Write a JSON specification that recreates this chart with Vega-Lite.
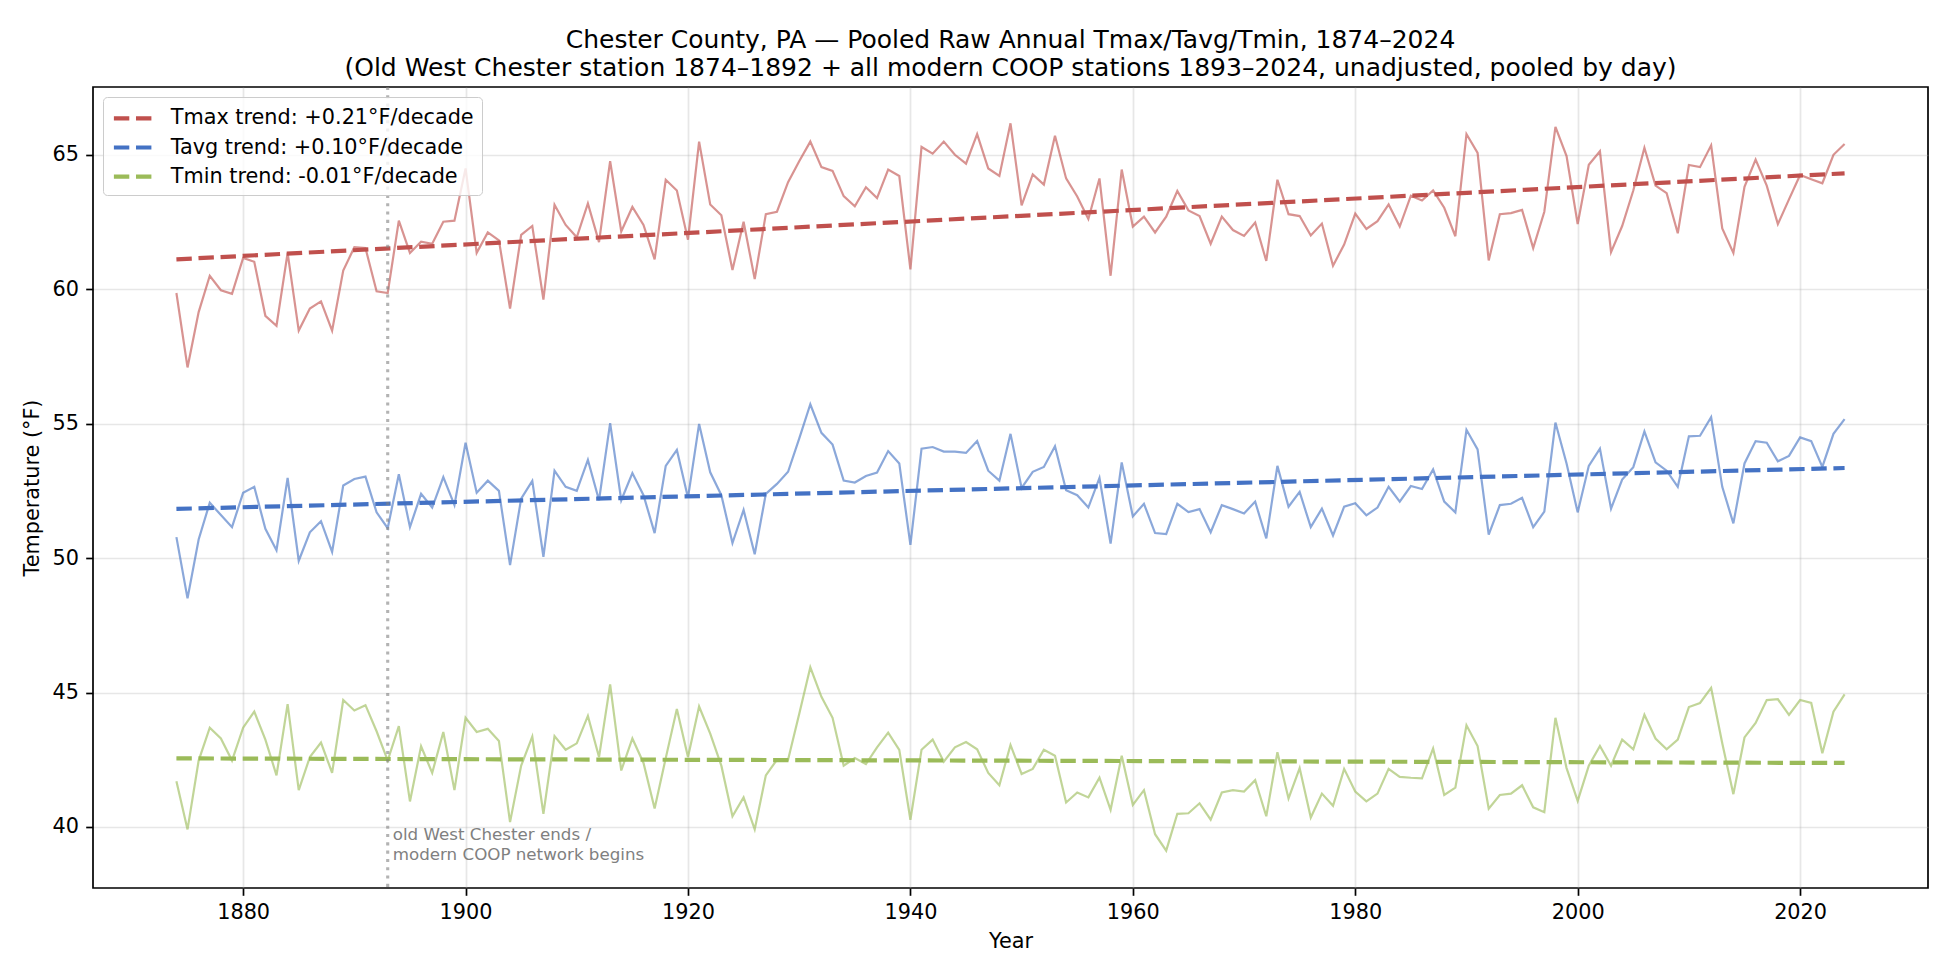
{
  "$schema": "https://vega.github.io/schema/vega-lite/v6.json",
  "description": "Chester County, PA pooled raw annual Tmax/Tavg/Tmin with linear trends, 1874-2024.",
  "width": 1835,
  "height": 801,
  "autosize": {"type": "none"},
  "padding": {"left": 93, "top": 87, "right": 22, "bottom": 87},
  "background": "white",
  "title": {
    "text": [
      "Chester County, PA — Pooled Raw Annual Tmax/Tavg/Tmin, 1874–2024",
      "(Old West Chester station 1874–1892 + all modern COOP stations 1893–2024, unadjusted, pooled by day)"
    ],
    "anchor": "middle",
    "font": "DejaVu Sans",
    "fontSize": 25,
    "fontWeight": "normal",
    "color": "black",
    "lineHeight": 28,
    "offset": 4
  },
  "datasets": {
    "annual": [
      {"year": 1874, "Tmax": 59.86, "Tavg": 50.78, "Tmin": 41.70},
      {"year": 1875, "Tmax": 57.09, "Tavg": 48.50, "Tmin": 39.91},
      {"year": 1876, "Tmax": 59.15, "Tavg": 50.69, "Tmin": 42.47},
      {"year": 1877, "Tmax": 60.50, "Tavg": 52.06, "Tmin": 43.69},
      {"year": 1878, "Tmax": 59.96, "Tavg": 51.60, "Tmin": 43.29},
      {"year": 1879, "Tmax": 59.83, "Tavg": 51.15, "Tmin": 42.47},
      {"year": 1880, "Tmax": 61.16, "Tavg": 52.43, "Tmin": 43.69},
      {"year": 1881, "Tmax": 61.02, "Tavg": 52.65, "Tmin": 44.29},
      {"year": 1882, "Tmax": 59.01, "Tavg": 51.09, "Tmin": 43.25},
      {"year": 1883, "Tmax": 58.64, "Tavg": 50.29, "Tmin": 41.92},
      {"year": 1884, "Tmax": 61.35, "Tavg": 52.98, "Tmin": 44.57},
      {"year": 1885, "Tmax": 58.46, "Tavg": 49.90, "Tmin": 41.37},
      {"year": 1886, "Tmax": 59.28, "Tavg": 50.96, "Tmin": 42.60},
      {"year": 1887, "Tmax": 59.55, "Tavg": 51.37, "Tmin": 43.14},
      {"year": 1888, "Tmax": 58.46, "Tavg": 50.23, "Tmin": 42.01},
      {"year": 1889, "Tmax": 60.69, "Tavg": 52.70, "Tmin": 44.72},
      {"year": 1890, "Tmax": 61.56, "Tavg": 52.94, "Tmin": 44.33},
      {"year": 1891, "Tmax": 61.53, "Tavg": 53.03, "Tmin": 44.53},
      {"year": 1892, "Tmax": 59.92, "Tavg": 51.70, "Tmin": 43.56},
      {"year": 1893, "Tmax": 59.86, "Tavg": 51.11, "Tmin": 42.47},
      {"year": 1894, "Tmax": 62.55, "Tavg": 53.12, "Tmin": 43.75},
      {"year": 1895, "Tmax": 61.35, "Tavg": 51.15, "Tmin": 40.95},
      {"year": 1896, "Tmax": 61.77, "Tavg": 52.39, "Tmin": 43.00},
      {"year": 1897, "Tmax": 61.69, "Tavg": 51.88, "Tmin": 42.01},
      {"year": 1898, "Tmax": 62.51, "Tavg": 53.01, "Tmin": 43.53},
      {"year": 1899, "Tmax": 62.55, "Tavg": 51.97, "Tmin": 41.37},
      {"year": 1900, "Tmax": 64.49, "Tavg": 54.29, "Tmin": 44.06},
      {"year": 1901, "Tmax": 61.35, "Tavg": 52.43, "Tmin": 43.53},
      {"year": 1902, "Tmax": 62.11, "Tavg": 52.88, "Tmin": 43.65},
      {"year": 1903, "Tmax": 61.82, "Tavg": 52.50, "Tmin": 43.20},
      {"year": 1904, "Tmax": 59.28, "Tavg": 49.74, "Tmin": 40.18},
      {"year": 1905, "Tmax": 62.02, "Tavg": 52.21, "Tmin": 42.28},
      {"year": 1906, "Tmax": 62.35, "Tavg": 52.87, "Tmin": 43.36},
      {"year": 1907, "Tmax": 59.61, "Tavg": 50.05, "Tmin": 40.49},
      {"year": 1908, "Tmax": 63.14, "Tavg": 53.25, "Tmin": 43.38},
      {"year": 1909, "Tmax": 62.39, "Tavg": 52.65, "Tmin": 42.87},
      {"year": 1910, "Tmax": 61.93, "Tavg": 52.50, "Tmin": 43.11},
      {"year": 1911, "Tmax": 63.19, "Tavg": 53.65, "Tmin": 44.13},
      {"year": 1912, "Tmax": 61.75, "Tavg": 52.15, "Tmin": 42.60},
      {"year": 1913, "Tmax": 64.76, "Tavg": 55.02, "Tmin": 45.30},
      {"year": 1914, "Tmax": 62.15, "Tavg": 52.15, "Tmin": 42.10},
      {"year": 1915, "Tmax": 63.06, "Tavg": 53.16, "Tmin": 43.29},
      {"year": 1916, "Tmax": 62.39, "Tavg": 52.34, "Tmin": 42.38},
      {"year": 1917, "Tmax": 61.11, "Tavg": 50.93, "Tmin": 40.69},
      {"year": 1918, "Tmax": 64.07, "Tavg": 53.43, "Tmin": 42.56},
      {"year": 1919, "Tmax": 63.67, "Tavg": 54.02, "Tmin": 44.39},
      {"year": 1920, "Tmax": 61.84, "Tavg": 52.24, "Tmin": 42.60},
      {"year": 1921, "Tmax": 65.49, "Tavg": 54.99, "Tmin": 44.48},
      {"year": 1922, "Tmax": 63.15, "Tavg": 53.19, "Tmin": 43.47},
      {"year": 1923, "Tmax": 62.75, "Tavg": 52.34, "Tmin": 42.28},
      {"year": 1924, "Tmax": 60.71, "Tavg": 50.56, "Tmin": 40.40},
      {"year": 1925, "Tmax": 62.51, "Tavg": 51.79, "Tmin": 41.10},
      {"year": 1926, "Tmax": 60.38, "Tavg": 50.14, "Tmin": 39.91},
      {"year": 1927, "Tmax": 62.79, "Tavg": 52.39, "Tmin": 41.92},
      {"year": 1928, "Tmax": 62.88, "Tavg": 52.76, "Tmin": 42.50},
      {"year": 1929, "Tmax": 63.98, "Tavg": 53.21, "Tmin": 42.50},
      {"year": 1930, "Tmax": 64.76, "Tavg": 54.44, "Tmin": 44.20},
      {"year": 1931, "Tmax": 65.49, "Tavg": 55.72, "Tmin": 45.94},
      {"year": 1932, "Tmax": 64.54, "Tavg": 54.66, "Tmin": 44.84},
      {"year": 1933, "Tmax": 64.40, "Tavg": 54.22, "Tmin": 44.06},
      {"year": 1934, "Tmax": 63.46, "Tavg": 52.88, "Tmin": 42.28},
      {"year": 1935, "Tmax": 63.08, "Tavg": 52.81, "Tmin": 42.56},
      {"year": 1936, "Tmax": 63.79, "Tavg": 53.05, "Tmin": 42.34},
      {"year": 1937, "Tmax": 63.39, "Tavg": 53.18, "Tmin": 42.96},
      {"year": 1938, "Tmax": 64.45, "Tavg": 53.98, "Tmin": 43.51},
      {"year": 1939, "Tmax": 64.21, "Tavg": 53.52, "Tmin": 42.87},
      {"year": 1940, "Tmax": 60.74, "Tavg": 50.49, "Tmin": 40.27},
      {"year": 1941, "Tmax": 65.29, "Tavg": 54.07, "Tmin": 42.87},
      {"year": 1942, "Tmax": 65.04, "Tavg": 54.13, "Tmin": 43.25},
      {"year": 1943, "Tmax": 65.49, "Tavg": 53.96, "Tmin": 42.43},
      {"year": 1944, "Tmax": 65.00, "Tavg": 53.96, "Tmin": 42.96},
      {"year": 1945, "Tmax": 64.67, "Tavg": 53.91, "Tmin": 43.16},
      {"year": 1946, "Tmax": 65.77, "Tavg": 54.35, "Tmin": 42.89},
      {"year": 1947, "Tmax": 64.49, "Tavg": 53.25, "Tmin": 42.01},
      {"year": 1948, "Tmax": 64.21, "Tavg": 52.88, "Tmin": 41.55},
      {"year": 1949, "Tmax": 66.17, "Tavg": 54.62, "Tmin": 43.05},
      {"year": 1950, "Tmax": 63.12, "Tavg": 52.61, "Tmin": 41.97},
      {"year": 1951, "Tmax": 64.27, "Tavg": 53.21, "Tmin": 42.16},
      {"year": 1952, "Tmax": 63.89, "Tavg": 53.39, "Tmin": 42.87},
      {"year": 1953, "Tmax": 65.71, "Tavg": 54.16, "Tmin": 42.65},
      {"year": 1954, "Tmax": 64.12, "Tavg": 52.52, "Tmin": 40.91},
      {"year": 1955, "Tmax": 63.45, "Tavg": 52.34, "Tmin": 41.28},
      {"year": 1956, "Tmax": 62.61, "Tavg": 51.88, "Tmin": 41.10},
      {"year": 1957, "Tmax": 64.12, "Tavg": 52.98, "Tmin": 41.83},
      {"year": 1958, "Tmax": 60.50, "Tavg": 50.54, "Tmin": 40.64},
      {"year": 1959, "Tmax": 64.45, "Tavg": 53.56, "Tmin": 42.65},
      {"year": 1960, "Tmax": 62.33, "Tavg": 51.55, "Tmin": 40.82},
      {"year": 1961, "Tmax": 62.70, "Tavg": 52.02, "Tmin": 41.37},
      {"year": 1962, "Tmax": 62.11, "Tavg": 50.93, "Tmin": 39.73},
      {"year": 1963, "Tmax": 62.70, "Tavg": 50.89, "Tmin": 39.12},
      {"year": 1964, "Tmax": 63.65, "Tavg": 52.02, "Tmin": 40.49},
      {"year": 1965, "Tmax": 62.93, "Tavg": 51.71, "Tmin": 40.51},
      {"year": 1966, "Tmax": 62.72, "Tavg": 51.82, "Tmin": 40.88},
      {"year": 1967, "Tmax": 61.69, "Tavg": 50.96, "Tmin": 40.27},
      {"year": 1968, "Tmax": 62.70, "Tavg": 51.97, "Tmin": 41.28},
      {"year": 1969, "Tmax": 62.20, "Tavg": 51.82, "Tmin": 41.37},
      {"year": 1970, "Tmax": 61.98, "Tavg": 51.66, "Tmin": 41.32},
      {"year": 1971, "Tmax": 62.48, "Tavg": 52.10, "Tmin": 41.74},
      {"year": 1972, "Tmax": 61.05, "Tavg": 50.73, "Tmin": 40.40},
      {"year": 1973, "Tmax": 64.07, "Tavg": 53.43, "Tmin": 42.78},
      {"year": 1974, "Tmax": 62.79, "Tavg": 51.91, "Tmin": 41.06},
      {"year": 1975, "Tmax": 62.72, "Tavg": 52.46, "Tmin": 42.19},
      {"year": 1976, "Tmax": 62.00, "Tavg": 51.15, "Tmin": 40.35},
      {"year": 1977, "Tmax": 62.44, "Tavg": 51.84, "Tmin": 41.24},
      {"year": 1978, "Tmax": 60.87, "Tavg": 50.84, "Tmin": 40.79},
      {"year": 1979, "Tmax": 61.66, "Tavg": 51.91, "Tmin": 42.16},
      {"year": 1980, "Tmax": 62.81, "Tavg": 52.04, "Tmin": 41.32},
      {"year": 1981, "Tmax": 62.24, "Tavg": 51.59, "Tmin": 40.95},
      {"year": 1982, "Tmax": 62.53, "Tavg": 51.88, "Tmin": 41.24},
      {"year": 1983, "Tmax": 63.15, "Tavg": 52.65, "Tmin": 42.16},
      {"year": 1984, "Tmax": 62.33, "Tavg": 52.10, "Tmin": 41.86},
      {"year": 1985, "Tmax": 63.48, "Tavg": 52.68, "Tmin": 41.83},
      {"year": 1986, "Tmax": 63.30, "Tavg": 52.57, "Tmin": 41.81},
      {"year": 1987, "Tmax": 63.67, "Tavg": 53.30, "Tmin": 42.92},
      {"year": 1988, "Tmax": 63.03, "Tavg": 52.10, "Tmin": 41.19},
      {"year": 1989, "Tmax": 61.97, "Tavg": 51.70, "Tmin": 41.46},
      {"year": 1990, "Tmax": 65.77, "Tavg": 54.77, "Tmin": 43.78},
      {"year": 1991, "Tmax": 65.07, "Tavg": 54.04, "Tmin": 43.01},
      {"year": 1992, "Tmax": 61.07, "Tavg": 50.87, "Tmin": 40.68},
      {"year": 1993, "Tmax": 62.79, "Tavg": 51.97, "Tmin": 41.19},
      {"year": 1994, "Tmax": 62.83, "Tavg": 52.02, "Tmin": 41.24},
      {"year": 1995, "Tmax": 62.95, "Tavg": 52.24, "Tmin": 41.55},
      {"year": 1996, "Tmax": 61.53, "Tavg": 51.15, "Tmin": 40.73},
      {"year": 1997, "Tmax": 62.88, "Tavg": 51.73, "Tmin": 40.55},
      {"year": 1998, "Tmax": 66.04, "Tavg": 55.04, "Tmin": 44.06},
      {"year": 1999, "Tmax": 64.95, "Tavg": 53.52, "Tmin": 42.19},
      {"year": 2000, "Tmax": 62.42, "Tavg": 51.70, "Tmin": 40.97},
      {"year": 2001, "Tmax": 64.63, "Tavg": 53.43, "Tmin": 42.28},
      {"year": 2002, "Tmax": 65.13, "Tavg": 54.07, "Tmin": 43.01},
      {"year": 2003, "Tmax": 61.38, "Tavg": 51.84, "Tmin": 42.28},
      {"year": 2004, "Tmax": 62.35, "Tavg": 52.92, "Tmin": 43.25},
      {"year": 2005, "Tmax": 63.67, "Tavg": 53.38, "Tmin": 42.89},
      {"year": 2006, "Tmax": 65.26, "Tavg": 54.71, "Tmin": 44.17},
      {"year": 2007, "Tmax": 63.85, "Tavg": 53.56, "Tmin": 43.29},
      {"year": 2008, "Tmax": 63.57, "Tavg": 53.25, "Tmin": 42.89},
      {"year": 2009, "Tmax": 62.08, "Tavg": 52.65, "Tmin": 43.25},
      {"year": 2010, "Tmax": 64.62, "Tavg": 54.53, "Tmin": 44.46},
      {"year": 2011, "Tmax": 64.54, "Tavg": 54.55, "Tmin": 44.61},
      {"year": 2012, "Tmax": 65.35, "Tavg": 55.24, "Tmin": 45.17},
      {"year": 2013, "Tmax": 62.26, "Tavg": 52.65, "Tmin": 43.11},
      {"year": 2014, "Tmax": 61.35, "Tavg": 51.29, "Tmin": 41.22},
      {"year": 2015, "Tmax": 63.81, "Tavg": 53.52, "Tmin": 43.33},
      {"year": 2016, "Tmax": 64.82, "Tavg": 54.35, "Tmin": 43.87},
      {"year": 2017, "Tmax": 63.85, "Tavg": 54.29, "Tmin": 44.72},
      {"year": 2018, "Tmax": 62.42, "Tavg": 53.60, "Tmin": 44.75},
      {"year": 2019, "Tmax": 63.34, "Tavg": 53.80, "Tmin": 44.17},
      {"year": 2020, "Tmax": 64.25, "Tavg": 54.49, "Tmin": 44.72},
      {"year": 2021, "Tmax": 64.09, "Tavg": 54.35, "Tmin": 44.61},
      {"year": 2022, "Tmax": 63.94, "Tavg": 53.39, "Tmin": 42.74},
      {"year": 2023, "Tmax": 65.00, "Tavg": 54.62, "Tmin": 44.29},
      {"year": 2024, "Tmax": 65.40, "Tavg": 55.17, "Tmin": 44.93}
    ],
    "trend": [
      {"label": "Tmax trend: +0.21°F/decade", "year": 1874, "value": 61.11},
      {"label": "Tmax trend: +0.21°F/decade", "year": 2024, "value": 64.31},
      {"label": "Tavg trend: +0.10°F/decade", "year": 1874, "value": 51.83},
      {"label": "Tavg trend: +0.10°F/decade", "year": 2024, "value": 53.35},
      {"label": "Tmin trend: -0.01°F/decade", "year": 1874, "value": 42.55},
      {"label": "Tmin trend: -0.01°F/decade", "year": 2024, "value": 42.38}
    ],
    "marker": [
      {"year": 1893, "note": "old West Chester ends /\nmodern COOP network begins"}
    ]
  },
  "encoding": {
    "x": {
      "field": "year",
      "type": "quantitative",
      "title": "Year",
      "scale": {"domain": [1866.5, 2031.5], "nice": false, "zero": false},
      "axis": {"values": [1880, 1900, 1920, 1940, 1960, 1980, 2000, 2020], "format": "d", "titlePadding": 9.5}
    }
  },
  "layer": [
    {
      "data": {"name": "annual"},
      "transform": [
        {"fold": ["Tmax", "Tavg", "Tmin"], "as": ["series", "value"]}
      ],
      "mark": {"type": "line", "strokeWidth": 2.2, "opacity": 0.62},
      "encoding": {
        "y": {
          "field": "value",
          "type": "quantitative",
          "title": "Temperature (°F)",
          "scale": {"domain": [37.73, 67.52], "nice": false, "zero": false},
          "axis": {"values": [40, 45, 50, 55, 60, 65], "titlePadding": 9}
        },
        "color": {
          "field": "series",
          "type": "nominal",
          "scale": {"domain": ["Tmax", "Tavg", "Tmin"], "range": ["#c0504d", "#4472c4", "#9bbb59"]},
          "legend": null
        }
      }
    },
    {
      "data": {"name": "trend"},
      "mark": {"type": "line", "strokeWidth": 4.2, "strokeDash": [15.4, 6.7]},
      "encoding": {
        "y": {"field": "value", "type": "quantitative"},
        "color": {
          "field": "label",
          "type": "nominal",
          "scale": {
            "domain": ["Tmax trend: +0.21°F/decade", "Tavg trend: +0.10°F/decade", "Tmin trend: -0.01°F/decade"],
            "range": ["#c0504d", "#4472c4", "#9bbb59"]
          },
          "legend": {
            "title": null,
            "orient": "none",
            "legendX": 10,
            "legendY": 10,
            "symbolType": "M-1,0H3",
            "symbolSize": 433,
            "symbolStrokeWidth": 4.2,
            "symbolDash": [15.4, 6.7],
            "labelOffset": 33.4,
            "rowPadding": 6.2,
            "padding": 8.3,
            "fillColor": "rgba(255,255,255,0.8)",
            "strokeColor": "#cccccc",
            "cornerRadius": 4,
            "labelFont": "DejaVu Sans",
            "labelFontSize": 20.8,
            "labelColor": "black",
            "labelLimit": 0
          }
        }
      }
    },
    {
      "data": {"name": "marker"},
      "mark": {"type": "rule", "color": "#808080", "opacity": 0.6, "strokeWidth": 3.1, "strokeDash": [3.1, 5.2]},
      "encoding": {}
    },
    {
      "data": {"name": "marker"},
      "mark": {
        "type": "text",
        "align": "left",
        "baseline": "top",
        "dx": 5,
        "font": "DejaVu Sans",
        "fontSize": 16.7,
        "lineHeight": 20.5,
        "lineBreak": "\n",
        "color": "#808080"
      },
      "encoding": {
        "y": {"datum": 40},
        "text": {"field": "note"}
      }
    }
  ],
  "resolve": {"scale": {"color": "independent"}},
  "config": {
    "view": {"stroke": "black", "strokeWidth": 1.7},
    "axis": {
      "domain": false,
      "labelFont": "DejaVu Sans",
      "labelFontSize": 20.8,
      "labelColor": "black",
      "labelPadding": 7.3,
      "titleFont": "DejaVu Sans",
      "titleFontSize": 20.8,
      "titleFontWeight": "normal",
      "titleColor": "black",
      "tickColor": "black",
      "tickSize": 7.3,
      "tickWidth": 1.7,
      "gridColor": "#b0b0b0",
      "gridOpacity": 0.3,
      "gridWidth": 1.7
    }
  }
}
